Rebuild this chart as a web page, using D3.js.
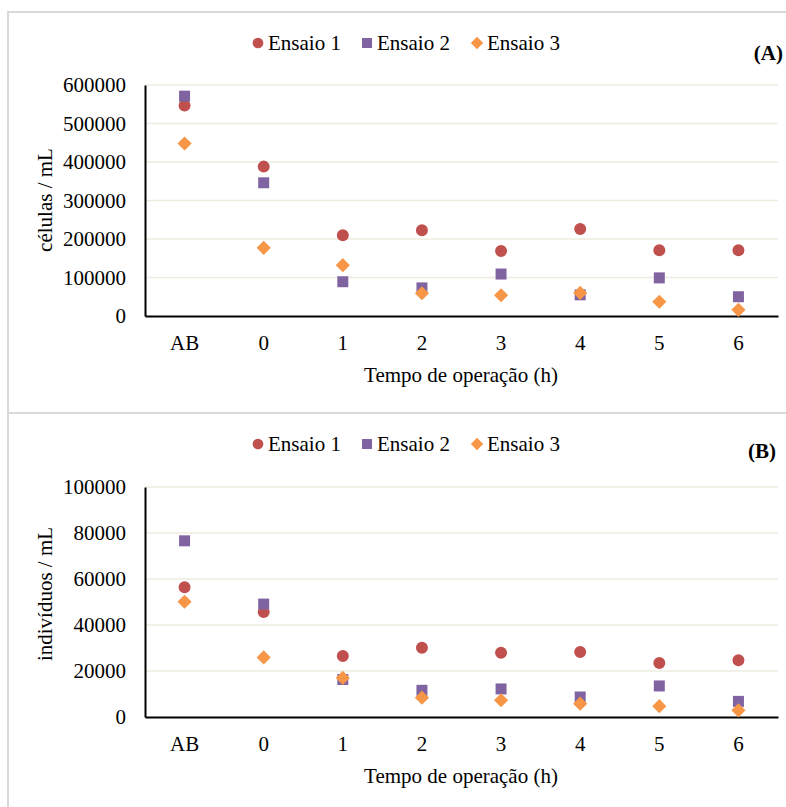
<!DOCTYPE html>
<html>
<head>
<meta charset="utf-8">
<script src="https://cdn.jsdelivr.net/npm/d3@7"></script>
<style>
  body { margin: 0; background: #fff; }
  text { font-family: "Liberation Serif", "Times New Roman", serif; fill: #000; }
</style>
</head>
<body>
<div id="chart"></div>
<script>
// categories on the x axis
var categories = ["AB", "0", "1", "2", "3", "4", "5", "6"];
var seriesNames = ["Ensaio 1", "Ensaio 2", "Ensaio 3"];

// panel (A) - células / mL
var cellsEnsaio1 = [547000, 388000, 210000, 223000, 169000, 226000, 171000, 171000];
var cellsEnsaio2 = [571000, 346000, 89000, 73000, 109000, 55000, 99000, 50000];
var cellsEnsaio3 = [448000, 177000, 132000, 59000, 54000, 60000, 37000, 16000];
var cellsTicks = [0, 100000, 200000, 300000, 400000, 500000, 600000];

// panel (B) - indivíduos / mL
var indEnsaio1 = [56400, 45600, 26500, 30100, 27900, 28300, 23500, 24700];
var indEnsaio2 = [76600, 49100, 16300, 11600, 12200, 8700, 13500, 6800];
var indEnsaio3 = [50100, 25900, 17000, 8400, 7300, 5800, 4700, 2900];
var indTicks = [0, 20000, 40000, 60000, 80000, 100000];

var colors = ["#C0504D", "#8064A2", "#F79646"];

var W = 786, H = 807;
var svg = d3.select("#chart").append("svg")
    .attr("width", W)
    .attr("height", H);

// marker for each series: circle, square, diamond (rotated square)
function markerPath(i, big) {
    if (i === 0) return d3.symbol().type(d3.symbolCircle).size(big ? 113 : 90)();
    if (i === 1) return d3.symbol().type(d3.symbolSquare).size(big ? 121 : 100)();
    return d3.symbol().type(d3.symbolSquare).size(big ? 100 : 76)();
}
function markerRotate(i) { return i === 2 ? " rotate(45)" : ""; }

function drawPanel(p) {
    var g = svg.append("g");

    // panel frame
    g.append("rect")
        .attr("x", p.frame[0]).attr("y", p.frame[1])
        .attr("width", p.frame[2]).attr("height", p.frame[3])
        .attr("fill", "none")
        .attr("stroke", "#D9D9D9")
        .attr("stroke-width", 2);

    var x = d3.scaleBand().domain(categories).range([145, 778]);
    var y = d3.scaleLinear().domain([0, p.ticks[p.ticks.length - 1]]).range([p.bottom, p.top]);

    // gridlines
    g.selectAll(".grid")
        .data(p.ticks.slice(1))
        .enter().append("line")
        .attr("x1", 145).attr("x2", 778)
        .attr("y1", function(d) { return y(d); })
        .attr("y2", function(d) { return y(d); })
        .attr("stroke", "#EEECE1")
        .attr("stroke-width", 1.5);

    // y axis
    var yAxis = g.append("g")
        .attr("transform", "translate(145,0)")
        .call(d3.axisLeft(y).tickValues(p.ticks).tickSize(0).tickPadding(19).tickFormat(d3.format("d")));
    yAxis.select(".domain").attr("stroke", "#000").attr("stroke-width", 2);
    yAxis.selectAll("text").style("font-size", "21px");

    // x axis
    var xAxis = g.append("g")
        .attr("transform", "translate(0," + p.bottom + ")")
        .call(d3.axisBottom(x).tickSize(0).tickPadding(19));
    xAxis.select(".domain").attr("stroke", "#000").attr("stroke-width", 2);
    xAxis.selectAll("text").style("font-size", "21px");

    // axis titles
    g.append("text")
        .attr("x", 461).attr("y", p.bottom + 66)
        .attr("text-anchor", "middle")
        .style("font-size", "21px")
        .text("Tempo de operação (h)");

    g.append("text")
        .attr("transform", "translate(52," + p.ylabelY + ") rotate(-90)")
        .attr("text-anchor", "middle")
        .style("font-size", "21px")
        .text(p.ylabel);

    // points
    p.series.forEach(function(vals, i) {
        g.selectAll(".pt" + i)
            .data(vals)
            .enter().append("path")
            .attr("d", markerPath(i, true))
            .attr("fill", colors[i])
            .attr("transform", function(d, k) {
                return "translate(" + (x(categories[k]) + x.bandwidth() / 2) + "," + y(d) + ")" + markerRotate(i);
            });
    });

    // legend
    var legX = [258, 367, 477];
    seriesNames.forEach(function(name, i) {
        g.append("path")
            .attr("d", markerPath(i, false))
            .attr("fill", colors[i])
            .attr("transform", "translate(" + legX[i] + "," + p.legendY + ")" + markerRotate(i));
        g.append("text")
            .attr("x", legX[i] + 10).attr("y", p.legendY)
            .attr("dy", "0.35em")
            .style("font-size", "21px")
            .text(name);
    });

    // panel tag
    g.append("text")
        .attr("x", p.tagX).attr("y", p.tagY)
        .attr("dy", "0.35em")
        .attr("text-anchor", "end")
        .style("font-size", "21px")
        .style("font-weight", "bold")
        .text(p.tag);
}

drawPanel({
    frame: [8, 12, 800, 401],
    top: 85, bottom: 316,
    ticks: cellsTicks,
    series: [cellsEnsaio1, cellsEnsaio2, cellsEnsaio3],
    ylabel: "células / mL", ylabelY: 200,
    legendY: 43,
    tag: "(A)", tagX: 783, tagY: 53
});

drawPanel({
    frame: [8, 413, 800, 410],
    top: 487, bottom: 717,
    ticks: indTicks,
    series: [indEnsaio1, indEnsaio2, indEnsaio3],
    ylabel: "indivíduos / mL", ylabelY: 594,
    legendY: 444,
    tag: "(B)", tagX: 776, tagY: 451
});
</script>
</body>
</html>
